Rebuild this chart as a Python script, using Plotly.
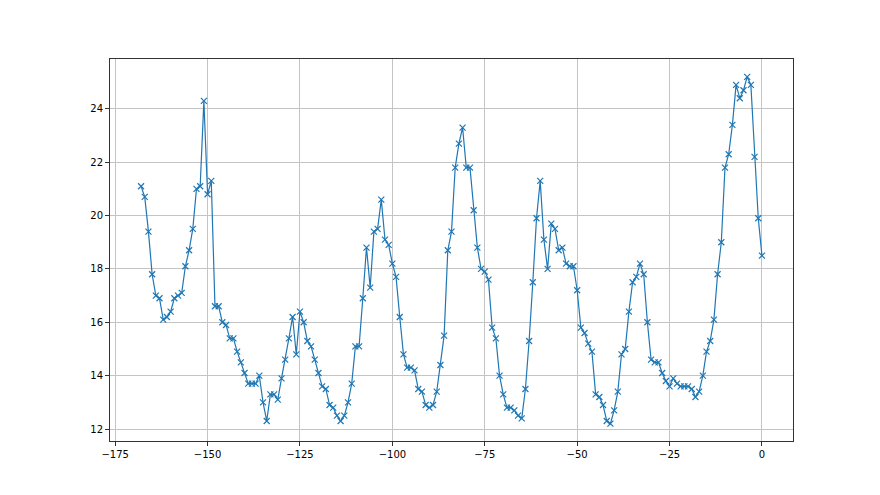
import plotly.graph_objects as go

x_values = list(range(-168, 1))

y_values = [
    21.1, 20.7, 19.4, 17.8, 17.0, 16.9, 16.1, 16.2, 16.4, 16.9,   # -168..-159
    17.0, 17.1, 18.1, 18.7, 19.5, 21.0, 21.1, 24.3, 20.8, 21.3,   # -158..-149
    16.6, 16.6, 16.0, 15.9, 15.4, 15.4, 14.9, 14.5, 14.1, 13.7,   # -148..-139
    13.7, 13.7, 14.0, 13.0, 12.3, 13.3, 13.3, 13.1, 13.9, 14.6,   # -138..-129
    15.4, 16.2, 14.8, 16.4, 16.0, 15.3, 15.1, 14.6, 14.1, 13.6,   # -128..-119
    13.5, 12.9, 12.8, 12.5, 12.3, 12.5, 13.0, 13.7, 15.1, 15.1,   # -118..-109
    16.9, 18.8, 17.3, 19.4, 19.5, 20.6, 19.1, 18.9, 18.2, 17.7,   # -108..-99
    16.2, 14.8, 14.3, 14.3, 14.2, 13.5, 13.4, 12.9, 12.8, 12.9,   # -98..-89
    13.4, 14.4, 15.5, 18.7, 19.4, 21.8, 22.7, 23.3, 21.8, 21.8,   # -88..-79
    20.2, 18.8, 18.0, 17.9, 17.6, 15.8, 15.4, 14.0, 13.3, 12.8,   # -78..-69
    12.8, 12.7, 12.5, 12.4, 13.5, 15.3, 17.5, 19.9, 21.3, 19.1,   # -68..-59
    18.0, 19.7, 19.5, 18.7, 18.8, 18.2, 18.1, 18.1, 17.2, 15.8,   # -58..-49
    15.6, 15.2, 14.9, 13.3, 13.2, 12.9, 12.3, 12.2, 12.7, 13.4,   # -48..-39
    14.8, 15.0, 16.4, 17.5, 17.7, 18.2, 17.8, 16.0, 14.6, 14.5,   # -38..-29
    14.5, 14.1, 13.8, 13.6, 13.9, 13.7, 13.6, 13.6, 13.6, 13.5,   # -28..-19
    13.2, 13.4, 14.0, 14.9, 15.3, 16.1, 17.8, 19.0, 21.8, 22.3,   # -18..-9
    23.4, 24.9, 24.4, 24.7, 25.2, 24.9, 22.2, 19.9, 18.5,         # -8..0
]

x_ticks = [-175, -150, -125, -100, -75, -50, -25, 0]
y_ticks = [12, 14, 16, 18, 20, 22, 24]

assert len(x_values) == len(y_values)

fig = go.Figure()
fig.add_trace(go.Scatter(
    x=x_values, y=y_values,
    mode="lines+markers",
    line=dict(color="#1f77b4", width=1.2),
    marker=dict(symbol="x-thin", size=6, color="#1f77b4",
                line=dict(width=1.2, color="#1f77b4")),
    showlegend=False,
))

axis_common = dict(
    showgrid=True, gridcolor="#c4c4c4", gridwidth=1,
    showline=True, linecolor="#333333", linewidth=1, mirror=True,
    ticks="outside", ticklen=4, tickcolor="#333333", tickwidth=1,
    zeroline=False,
    tickfont=dict(family="DejaVu Sans", size=10, color="#000000"),
)

fig.update_xaxes(range=[-176.4, 8.4], tickmode="array", tickvals=x_ticks,
                 ticktext=[str(v).replace("-", "\u2212") for v in x_ticks],
                 **axis_common)
fig.update_yaxes(range=[11.55, 25.87], tickmode="array", tickvals=y_ticks,
                 ticktext=[str(v) for v in y_ticks], **axis_common)

fig.update_layout(
    width=880, height=495,
    margin=dict(l=102, r=95, t=51, b=62),
    paper_bgcolor="white", plot_bgcolor="white",
)

fig.write_html("out.html")
